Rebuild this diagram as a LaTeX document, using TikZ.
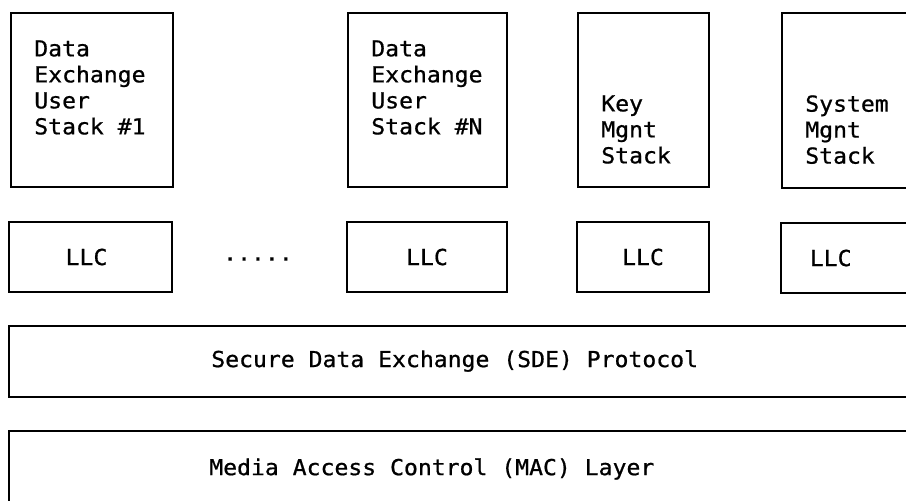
\documentclass[tikz,border=0pt]{standalone}
\usepackage{fontspec}
\newfontfamily\printfont[FakeStretch=1.05,FakeBold=0.8]{DejaVu Sans Mono}
\usetikzlibrary{fit}

\begin{document}
\begin{tikzpicture}[
    x=0.5pt, y=-0.5pt, line width=1.3pt,
    every node/.style={font=\fontsize{11}{13}\printfont},
    box/.style={draw, rectangle, inner sep=0pt},
    stacktext/.style={anchor=north west, align=left, inner sep=0pt}
  ]
    \useasboundingbox (0,0) rectangle (906,500);
    \clip (0,0) rectangle (906,500);

    % user and management stacks
    \node[box, fit={(11,13) (173,187)}] (usr1) {};
    \node[box, fit={(348,13) (507,187)}] (usrN) {};
    \node[box, fit={(578,13) (709,187)}] (key) {};
    \node[box, fit={(782,13) (940,188)}] (sys) {};
    \node[stacktext] (usr1txt) at (33,39) {Data\\Exchange\\User\\Stack \#1};
    \node[stacktext] (usrNtxt) at (370,39) {Data\\Exchange\\User\\Stack \#N};
    \node[stacktext] (keytxt) at (600,94) {Key\\Mgnt\\Stack};
    \node[stacktext] (systxt) at (804,94) {System\\Mgnt\\Stack};

    % one LLC under each stack
    \node[box, fit={(9,222) (172,292)}] (llc1) {};
    \node[box, fit={(347,222) (507,292)}] (llcN) {};
    \node[box, fit={(577,222) (709,292)}] (llck) {};
    \node[box, fit={(781,223) (940,293)}] (llcs) {};
    \node (llc1txt) at ([xshift=-2pt]llc1.center) {LLC};
    \node (llcNtxt) at (llcN.center) {LLC};
    \node (llcktxt) at (llck.center) {LLC};
    \node (llcstxt) at ([xshift=25.5pt]llcs.west) {LLC};
    \node[inner sep=0pt] (dots) at (258,259) {.....};

    % shared layers
    \node[box, fit={(9,326) (940,397)}] (sde) {};
    \node[anchor=west, inner sep=0pt] (sdetxt) at (210,361) {Secure Data Exchange (SDE) Protocol};
    \node[box, fit={(9,431) (940,505)}] (mac) {};
    \node[anchor=west, inner sep=0pt] (mactxt) at (208,469) {Media Access Control (MAC) Layer};
  \end{tikzpicture}
\end{document}
